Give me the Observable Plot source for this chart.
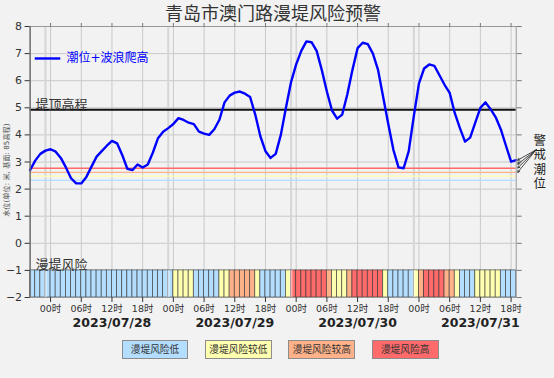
<!DOCTYPE html>
<html><head><meta charset="utf-8">
<script src="https://cdn.jsdelivr.net/npm/d3@7"></script>
<script src="https://cdn.jsdelivr.net/npm/@observablehq/plot@0.6"></script>
<style>
body{margin:0;background:#f2f2f2;font-family:"Noto Sans CJK SC",sans-serif;width:554px;height:378px;overflow:hidden}
#title{height:22px;line-height:24px;text-align:center;font-size:18px;color:#333;padding-right:8px}
#chart{height:310px}
#legend{display:flex;gap:16.7px;margin-left:121.7px;margin-top:8px}
.box{box-sizing:border-box;width:66.7px;height:19px;border:1px solid #8c8c8c;font-size:9.7px;line-height:17px;text-align:center;color:#333}
</style></head>
<body>
<div id="title">青岛市澳门路漫堤风险预警</div>
<div id="chart"></div>
<div id="legend"></div>
<script>
// ---- data ----
const startTime = Date.UTC(2023, 6, 27, 20); // 2023-07-27 20:00
const endHours = 95;                          // axis ends 2023-07-31 19:00
// hourly tide + wave run-up (m), from 07/27 20:00
const tideWave = [
  2.70, 3.05, 3.30, 3.42, 3.47, 3.38, 3.15, 2.80, 2.40, 2.21,
  2.21, 2.45, 2.83, 3.20, 3.40, 3.60, 3.78, 3.69, 3.26, 2.75,
  2.70, 2.91, 2.80, 2.91, 3.35, 3.88, 4.12, 4.25, 4.40, 4.62,
  4.55, 4.45, 4.40, 4.12, 4.05, 4.00, 4.21, 4.56, 5.20, 5.45,
  5.56, 5.60, 5.52, 5.40, 4.75, 3.95, 3.40, 3.15, 3.30, 4.00,
  5.00, 5.95, 6.60, 7.10, 7.45, 7.42, 7.10, 6.40, 5.60, 4.90,
  4.60, 4.75, 5.50, 6.40, 7.20, 7.40, 7.35, 7.00, 6.40, 5.40,
  4.40, 3.45, 2.80, 2.77, 3.40, 4.70, 5.90, 6.45, 6.60, 6.55,
  6.20, 5.85, 5.55, 4.80, 4.25, 3.75, 3.90, 4.45, 5.00, 5.20,
  4.95, 4.65, 4.20, 3.60, 3.01, 3.07
];
// hourly overtopping-risk level (0 low .. 3 high), from 07/27 20:00
const riskLevel = [
  0,0,0,0,0,0,0,0,0,0, 0,0,0,0,0,0,0,0,0,0, 0,0,0,0,0,0,0,0,
  1,1,1,1, 0,0,0,0,0, 1,1, 2,2,2,2,2, 1, 0,0,0,0,0, 1,
  3,3,3,3,3,3,3, 2, 1,1,1, 2, 3,3,3,3,3,3, 1, 0,0,0,0,0,
  1, 2, 3,3,3,3, 2,2, 1, 0,0,0, 1,1,1,1,1, 0,0,0
];
const riskNames = ["漫堤风险低", "漫堤风险较低", "漫堤风险较高", "漫堤风险高"];
const riskColors = ["#b3deff", "#ffffb0", "#ffb28a", "#ff6b6b"];
const warnLevels = [2.32, 2.48, 2.62, 2.77];   // warning tide levels (low..high)
const dikeTop = 4.93;
const yTicks = [-2, -1, 0, 1, 2, 3, 4, 5, 6, 7, 8];
const dayLabels = ["2023/07/28", "2023/07/29", "2023/07/30", "2023/07/31"];

// ---- derived tables ----
const HOUR = 3600e3;
const at = h => new Date(startTime + h * HOUR);
const x0 = at(0), x1 = at(endHours);
const lineData = tideWave.map((v, i) => ({t: at(i), v}));
const barData = riskLevel.map((l, i) => ({t1: at(i), t2: at(i + 1), risk: riskNames[l]}));
const warnData = warnLevels.map((v, i) => ({v, risk: riskNames[i]}));
const sixHour = d3.utcHour.every(6).range(x0, x1);
const dayEdge = dayLabels.map((s, i) => new Date(Date.UTC(2023, 6, 27 + i, 23)));
const dayNoon = dayLabels.map((s, i) => ({t: new Date(Date.UTC(2023, 6, 28 + i, 12)), label: s}));

const chart = Plot.plot({
  width: 554, height: 310,
  marginLeft: 29.6, marginRight: 38.3, marginTop: 4, marginBottom: 35,
  style: {background: "transparent", fontFamily: "'DejaVu Sans','Noto Sans CJK SC',sans-serif", overflow: "visible"},
  x: {type: "utc", domain: [x0, x1], label: null},
  y: {domain: [-2, 8], label: null},
  color: {domain: riskNames, range: riskColors},
  marks: [
    Plot.gridY(yTicks, {stroke: "#c9c9c9", strokeOpacity: 1}),
    Plot.gridX(sixHour, {stroke: "#c9c9c9", strokeOpacity: 1}),
    Plot.ruleX(dayEdge, {stroke: "#d6d6d6", strokeWidth: 2}),
    Plot.rect(barData, {x1: "t1", x2: "t2", y1: -2, y2: -1, fill: "risk", stroke: "#333", strokeOpacity: 0.75, strokeWidth: 0.8}),
    Plot.ruleX(dayEdge, {y1: -2, y2: -1, stroke: "white", strokeOpacity: 0.45, strokeWidth: 3}),
    Plot.ruleY(warnData, {y: "v", stroke: "risk", strokeWidth: 1.3}),
    Plot.ruleY([dikeTop], {stroke: "#111", strokeWidth: 2}),
    Plot.line(lineData, {x: "t", y: "v", stroke: "#0000ff", strokeWidth: 2.4}),
    Plot.frame({stroke: "#999"}),
    Plot.ruleX([x0], {stroke: "#555"}),
    Plot.axisY(yTicks, {tickSize: 5, tickPadding: 3, fontSize: 11, color: "#333", label: null}),
    Plot.axisY(yTicks, {anchor: "right", tickSize: 5, tickFormat: () => "", color: "#777", label: null}),
    Plot.axisX(sixHour, {tickSize: 5, tickPadding: 3, fontSize: 9.5, color: "#333", tickFormat: d => d3.utcFormat("%H")(d) + "时", label: null}),
    Plot.axisX(sixHour, {anchor: "top", tickSize: 4, tickFormat: () => "", color: "#777", label: null}),
    Plot.text(dayNoon, {x: "t", y: -2, text: "label", dy: 25, fontWeight: "bold", fontSize: 12.5, fill: "#222"}),
    // legend for line
    Plot.ruleY([6.82], {x1: at(1), x2: at(6), stroke: "#0000ff", strokeWidth: 2.4}),
    Plot.text(["潮位+波浪爬高"], {x: at(7.1), y: 6.82, textAnchor: "start", fill: "#0000ff", fontSize: 12}),
    // annotations
    Plot.text(["堤顶高程"], {x: x0, y: dikeTop, dx: 5.5, dy: -1, textAnchor: "start", lineAnchor: "bottom", fontSize: 13, fill: "#333"}),
    Plot.text(["漫堤风险"], {x: x0, y: -1, dx: 5.5, dy: -1, textAnchor: "start", lineAnchor: "bottom", fontSize: 13, fill: "#333"}),
    Plot.text(["警\n戒\n潮\n位"], {x: at(99.6), y: 3.0, fontSize: 12.5, lineHeight: 1.15, fill: "#222"}),
    Plot.arrow(warnData, {x1: at(98.9), y1: 3.45, x2: at(95.3), y2: d => d.v + 0.3, stroke: "#222", strokeWidth: 0.8, headLength: 4}),
    Plot.text(["水位(单位: 米, 基面: 85高程)"], {x: x0, y: 2.7, dx: -23.6, rotate: -90, fontSize: 7.2, fill: "#555"})
  ]
});
document.getElementById("chart").appendChild(chart);

const legend = document.getElementById("legend");
riskNames.forEach((n, i) => {
  const b = document.createElement("div");
  b.className = "box";
  b.style.background = riskColors[i];
  b.textContent = n;
  legend.appendChild(b);
});
</script>
</body></html>
